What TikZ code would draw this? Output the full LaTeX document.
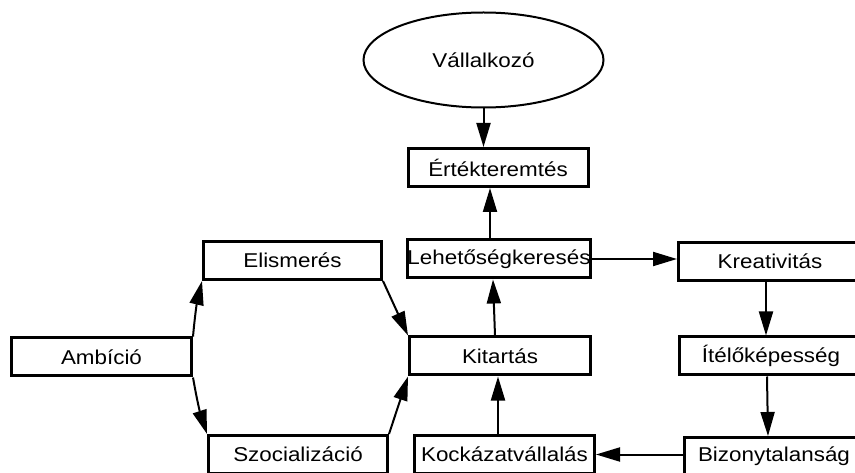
\documentclass[tikz,border=0pt]{standalone}
\usepackage{fontspec}
\setmainfont{Liberation Sans}[FakeStretch=1.12]
\usetikzlibrary{arrows.meta,shapes.geometric}
\begin{document}
\begin{tikzpicture}[x=1pt,y=-1pt,
  box/.style={draw,line width=3pt,rectangle,inner sep=0pt,
    minimum width=#1,minimum height=38pt,
    font=\fontsize{20}{24}\selectfont},
  box/.default=180pt,
  arr/.style={line width=2pt,-{Triangle[length=24pt,width=14pt]}}]
\useasboundingbox (0,0) rectangle (855,473);
\clip (0,0) rectangle (855,473);
\fill[white] (0,0) rectangle (855,473);

% top: the entrepreneur
\node[draw,ellipse,line width=2pt,minimum width=240pt,minimum height=95pt,
  inner sep=0pt,font=\fontsize{20}{24}\selectfont] (ell) at (483.5,60) {Vállalkozó};

% middle column
\node[box] (ert) at (498,167.5) {Értékteremtés};
\node[box=181pt] (leh) at (499,259) {Lehetőségkeresés};
\node[box=181pt] (kit) at (500,356) {Kitartás};
\node[box] (koc) at (504.5,454.5) {Kockázatvállalás};

% right column
\node[box=183pt] (kre) at (770,261.5) {Kreativitás};
\node[box=183pt] (ite) at (771,356) {Ítélőképesség};
\node[box] (biz) at (774,456.5) {Bizonytalanság};

% left side
\node[box=178pt] (eli) at (292.5,260.5) {Elismerés};
\node[box] (amb) at (101.5,357) {Ambíció};
\node[box=179pt] (szo) at (298,454.5) {Szocializáció};

% connectors
\draw[arr] (ell.south) -- (ell.south |- ert.north);
\draw[arr] ([xshift=-9pt]leh.north) -- ([xshift=-9pt]leh.north |- ert.south);
\draw[arr] ([xshift=-5pt]kit.north) -- ([xshift=-6pt]leh.south);
\draw[arr] ([xshift=-6.5pt]koc.north) -- ([xshift=-2pt]kit.south);
\draw[arr] (leh.east) -- (leh.east -| kre.west);
\draw[arr] ([xshift=-4pt]kre.south) -- ([xshift=-5pt]ite.north);
\draw[arr] ([xshift=-4pt]ite.south) -- ([xshift=-6pt]biz.north);
\draw[arr] (koc.east -| biz.west) -- (koc.east);
\draw[arr] (amb.north east) to[bend left=4] (eli.south west);
\draw[arr] (amb.south east) to[bend right=4] (szo.north west);
\draw[arr] (eli.south east) -- (kit.north west);
\draw[arr] (szo.north east) -- (kit.south west);
\end{tikzpicture}
\end{document}
